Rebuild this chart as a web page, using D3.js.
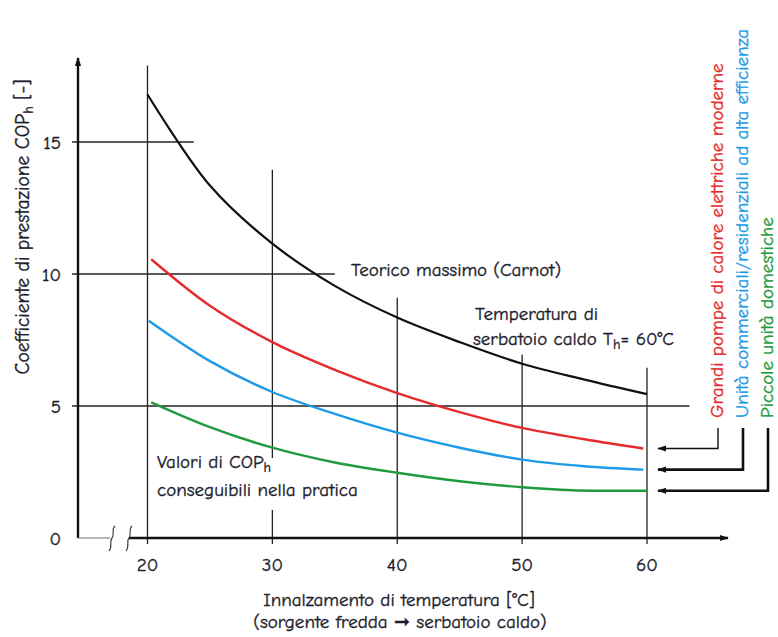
<!DOCTYPE html>
<html>
<head>
<meta charset="utf-8">
<script src="https://cdn.jsdelivr.net/npm/d3@7"></script>
<style>
  body { margin: 0; background: #fff; }
  svg { display: block; }
  text { font-family: "Comic Sans MS", "Comic Neue", "Open Sans", sans-serif; fill: #1c1c2c; stroke: #1c1c2c; stroke-width: 0.35px; }
</style>
</head>
<body>
<div id="chart"></div>
<script>
// Dimensions
const width = 778;
const height = 637;

// Données
const xTicks = [20, 30, 40, 50, 60];
const yTicks = [0, 5, 10, 15];

const carnot = [[20, 16.8], [25, 13.35], [30, 11.15], [35, 9.55], [40, 8.35], [45, 7.42], [50, 6.6], [55, 6.0], [60, 5.45]];
const grandi = [[20.3, 10.56], [25, 8.8], [30, 7.42], [35, 6.37], [40, 5.49], [45, 4.77], [50, 4.17], [55, 3.74], [59.7, 3.39]];
const commerciali = [[20.1, 8.23], [25, 6.7], [30, 5.53], [35, 4.7], [40, 3.99], [45, 3.42], [50, 2.97], [55, 2.72], [59.7, 2.59]];
const domestiche = [[20.3, 5.14], [25, 4.2], [30, 3.42], [35, 2.86], [40, 2.47], [45, 2.15], [50, 1.92], [54, 1.81], [60, 1.79]];

const seriesNames = ["Grandi pompe di calore elettriche moderne", "Unità commerciali/residenziali ad alta efficienza", "Piccole unità domestiche"];
const seriesEnd = [3.39, 2.59, 1.79];

// Mise en page (étendue des lignes de grille, en unités des axes)
const vGridTop = [17.9, 13.95, 9.1, 6.95, 6.45];
const hGridEnd = { 5: 63.4, 10: 35, 15: 23.7 };
const colors = ["#e52b2b", "#1d9be6", "#1f9a3e"];
const fs = "19px";

const x = d3.scaleLinear().domain([20, 60]).range([147.5, 647]);
const y = d3.scaleLinear().domain([0, 15]).range([538, 142]);

const svg = d3.select("#chart").append("svg")
  .attr("width", width)
  .attr("height", height);

const defs = svg.append("defs");
defs.append("marker")
  .attr("id", "arr")
  .attr("viewBox", "0 0 10 10")
  .attr("refX", 9).attr("refY", 5)
  .attr("markerWidth", 9).attr("markerHeight", 9)
  .attr("markerUnits", "userSpaceOnUse")
  .attr("orient", "auto")
  .append("path").attr("d", "M0,1.5 L10,5 L0,8.5 Z").attr("fill", "#111");

// Lignes de grille verticales
const x0 = 78;
svg.append("g").selectAll("line")
  .data(xTicks)
  .join("line")
  .attr("x1", d => x(d)).attr("x2", d => x(d))
  .attr("y1", (d, i) => y(vGridTop[i]))
  .attr("y2", y(0) + 6)
  .attr("stroke", "#222").attr("stroke-width", 1.3);

// coupure de la ligne à 30 derrière le texte
svg.append("rect")
  .attr("x", x(30) - 3).attr("y", 458)
  .attr("width", 6).attr("height", 52)
  .attr("fill", "#fff");

// Lignes de grille horizontales
svg.append("g").selectAll("line")
  .data(yTicks.filter(d => d > 0))
  .join("line")
  .attr("x1", x0 - 6)
  .attr("x2", d => x(hGridEnd[d]))
  .attr("y1", d => y(d)).attr("y2", d => y(d))
  .attr("stroke", "#222").attr("stroke-width", 1.3);

// Axe Y
svg.append("line")
  .attr("x1", x0).attr("x2", x0)
  .attr("y1", y(0)).attr("y2", 58)
  .attr("stroke", "#111").attr("stroke-width", 2.4)
  .attr("marker-end", "url(#arr)");

svg.append("g").selectAll("text")
  .data(yTicks)
  .join("text")
  .attr("x", 61)
  .attr("y", d => y(d))
  .attr("dy", "0.36em")
  .attr("text-anchor", "end")
  .style("font-size", fs)
  .text(d => d);

// Axe X avec coupure
svg.append("line")
  .attr("x1", x0).attr("x2", 110)
  .attr("y1", y(0)).attr("y2", y(0))
  .attr("stroke", "#888").attr("stroke-width", 1.2);
svg.append("line")
  .attr("x1", 129).attr("x2", 728)
  .attr("y1", y(0)).attr("y2", y(0))
  .attr("stroke", "#111").attr("stroke-width", 2.4)
  .attr("marker-end", "url(#arr)");
[112, 129].forEach(bx => {
  svg.append("path")
    .attr("d", `M${bx - 3},${y(0) + 13} C${bx + 1},${y(0) + 8} ${bx - 3},${y(0) + 3} ${bx},${y(0)} S${bx - 1},${y(0) - 9} ${bx + 3},${y(0) - 12}`)
    .attr("fill", "none").attr("stroke", "#333").attr("stroke-width", 1.1);
});

svg.append("g").selectAll("text")
  .data(xTicks)
  .join("text")
  .attr("x", d => x(d))
  .attr("y", 571)
  .attr("text-anchor", "middle")
  .style("font-size", fs)
  .text(d => d);

// Titres des axes
svg.append("text")
  .attr("x", 399).attr("y", 606)
  .attr("text-anchor", "middle")
  .style("font-size", fs)
  .text("Innalzamento di temperatura [°C]");
svg.append("text")
  .attr("x", 400).attr("y", 628)
  .attr("text-anchor", "middle")
  .style("font-size", fs)
  .text("(sorgente fredda \u279E serbatoio caldo)");

const yTitle = svg.append("text")
  .attr("transform", "translate(22,227) rotate(-90)")
  .attr("text-anchor", "middle")
  .attr("dy", "0.35em")
  .style("font-size", "19.5px");
yTitle.append("tspan").text("Coefficiente di prestazione COP");
yTitle.append("tspan").attr("dy", 4).style("font-size", "14px").text("h");
yTitle.append("tspan").attr("dy", -4).text(" [-]");

// Courbes
const line = d3.line()
  .x(d => x(d[0]))
  .y(d => y(d[1]))
  .curve(d3.curveCatmullRom.alpha(0.5));

svg.append("path").datum(carnot)
  .attr("d", line).attr("fill", "none")
  .attr("stroke", "#111").attr("stroke-width", 2.2);

[grandi, commerciali, domestiche].forEach((s, i) => {
  svg.append("path").datum(s)
    .attr("d", line).attr("fill", "none")
    .attr("stroke", colors[i]).attr("stroke-width", 2.4);
});

// Annotations
svg.append("text")
  .attr("x", 351).attr("y", 276)
  .attr("textLength", 210)
  .attr("lengthAdjust", "spacing")
  .style("font-size", fs)
  .text("Teorico massimo (Carnot)");

svg.append("text")
  .attr("x", 475).attr("y", 320)
  .style("font-size", fs)
  .text("Temperatura di");
const th = svg.append("text")
  .attr("x", 473).attr("y", 345)
  .style("font-size", fs);
th.append("tspan").text("serbatoio caldo T");
th.append("tspan").attr("dy", 4).style("font-size", "14px").text("h");
th.append("tspan").attr("dy", -4).text("= 60°C");

const val = svg.append("text")
  .attr("x", 157).attr("y", 468)
  .style("font-size", fs);
val.append("tspan").text("Valori di COP");
val.append("tspan").attr("dy", 4).style("font-size", "14px").text("h");
svg.append("text")
  .attr("x", 157).attr("y", 496)
  .style("font-size", fs)
  .text("conseguibili nella pratica");

// Légendes verticales et flèches
const labelX = [718, 743, 768];
const connW = [1.4, 2.6, 2.6];

svg.append("g").selectAll("text")
  .data(seriesNames)
  .join("text")
  .attr("transform", (d, i) => `translate(${labelX[i] - 1},418) rotate(-90)`)
  .attr("dy", "0.3em")
  .style("font-size", fs)
  .style("fill", (d, i) => colors[i])
  .style("stroke", (d, i) => colors[i])
  .text(d => d);

svg.append("g").selectAll("path")
  .data(seriesEnd)
  .join("path")
  .attr("d", (d, i) => `M${labelX[i]},428 V${y(d)} H${x(60) + 11}`)
  .attr("fill", "none")
  .attr("stroke", "#111")
  .attr("stroke-width", (d, i) => connW[i])
  .attr("marker-end", "url(#arr)");
</script>
</body>
</html>
